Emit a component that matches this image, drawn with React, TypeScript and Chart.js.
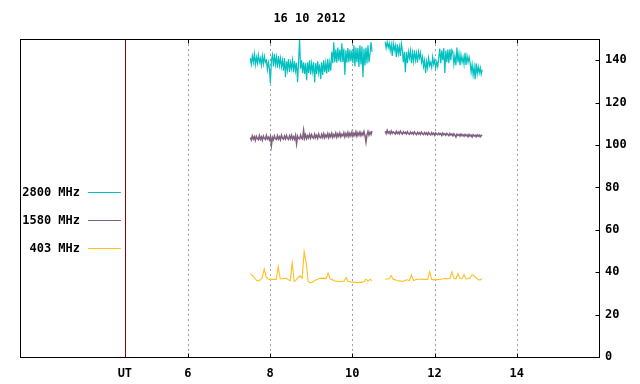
import React, { useEffect, useRef } from "react";
import { Chart, registerables } from "chart.js";

Chart.register(...registerables);

const TITLE = "16 10 2012";
const X_MIN = 1.92;
const X_MAX = 16;
const X_TICKS = [6, 8, 10, 12, 14];
const UT_HOUR = 4.47;
const UT_LABEL = "UT";
const Y_MIN = 0;
const Y_MAX = 150;
const Y_TICKS = [0, 20, 40, 60, 80, 100, 120, 140];

const SERIES_NAMES = ["2800 MHz", "1580 MHz", "403 MHz"];
const SERIES_COLORS = ["#00c0c0", "#806080", "#ffc020"];
const SERIES_WIDTHS = [1.2, 1.5, 1.1];

// observation segments (UT hours)
const SEG_A = [7.52, 10.48];
const SEG_B = [10.8, 13.16];

const F2800_A = [
  141, 138, 142, 139, 143, 137.8, 141.5, 138.5, 142.5, 139, 141, 137.6, 142, 138.2, 141.8, 139,
  140, 135.5, 139, 136,
  129, 140,
  142.5, 137, 143, 138, 141.5, 136.5, 142, 137.5, 141, 136.8,
  140, 135, 141, 132, 139.5, 135.5, 140.5, 134.5, 139, 136, 140, 134.3, 139.5, 135, 138.8, 129.6, 139,
  150,
  136, 140, 134, 139, 133.5, 138.6, 130.6, 139, 134, 140, 133.3, 138.5, 134.5, 139, 129.5, 138.6,
  133.5, 139.5, 134, 138, 131, 139, 133, 140, 134.3, 138.7, 133.8, 140.5, 134.5, 139, 135,
  144, 138.6, 148.5, 139, 145, 138.8, 146, 139.5,
  145, 139, 148, 139.2, 145.5, 133, 144.7, 138.8, 145.7, 139, 145, 139.5, 144.5,
  138.6, 147, 137, 146, 139, 145.7, 136.8, 147, 138, 146.5, 132, 145.5, 137.5, 146, 138.5, 147, 139,
  143, 148.5, 144,
];
const F2800_B = [
  148.7, 145.7, 148.5, 146,
  148, 144.5, 147.5, 142, 148, 144.7, 147, 141.5, 147.5, 143, 146.5, 142, 147.8,
  144.7, 139, 144, 134.3, 143.8, 138.6, 144,
  141, 144.5, 138.6, 143.5, 139.5, 144.7, 140, 143.3, 138.8, 144, 141, 143.5, 139,
  141.5, 137, 140, 134, 139.5, 136.3, 141, 137.5, 139, 136.5, 141.5, 138, 140, 136.3, 139.2, 137, 141,
  145.5, 138.6, 144.7, 140, 145.7, 134, 144.5, 139, 145, 138.6, 145.2, 140, 144.8,
  143.8, 138, 142, 137.6, 146, 139, 143, 137.6, 142.5, 139, 141.5, 138, 143.5, 137.8, 142, 139, 141.5,
  139, 134.3, 138, 133, 136.8, 131, 138.5, 133.5, 137, 134, 136.5, 133.3, 135.5,
];

const F1580_A = [
  103.5, 102.4, 104.3, 102.8, 103.9, 102.2, 104.1, 103.0, 102.5, 104.4, 102.7, 103.8, 102.3, 104.2, 103.1, 102.6, 104.5, 102.9, 103.7, 102.4,
  104.0, 99.8, 103.6, 102.5, 104.3, 103.0, 102.6, 104.4, 102.8, 103.9, 102.5, 104.6, 103.2, 102.7, 104.2, 102.9, 104.5, 103.1, 102.6, 104.3,
  103.0, 104.6, 102.8, 103.9, 102.7, 104.5, 100.6, 104.2, 103.1, 102.9, 104.7, 103.3, 102.8, 106.9, 103.2, 104.8, 103.0, 104.4, 103.4, 105.0,
  103.3, 104.9, 103.6, 103.1, 105.1, 103.5, 104.6, 103.2, 105.2, 103.7, 103.3, 105.0, 103.6, 105.3, 103.4, 104.7, 103.8, 105.4, 103.5, 105.1,
  103.9, 105.5, 103.6, 104.9, 104.0, 105.6, 103.7, 105.2, 104.1, 105.7, 103.9, 105.0, 104.3, 105.8, 103.8, 105.4, 104.2, 105.9, 104.0, 105.5,
  104.3, 106.0, 104.1, 105.6, 104.5, 106.2, 104.2, 105.8, 104.6, 106.1, 104.4, 105.7, 104.7, 106.3, 104.5, 101.4, 104.8, 106.4, 104.6, 106.0, 105.0, 106.6,
];
const F1580_B = [
  106.5, 105.4, 106.9, 105.6, 106.3, 105.3, 106.6, 105.5, 106.2, 105.8, 105.2, 106.4, 105.4, 106.1, 105.3, 106.5, 105.6, 105.1, 106.2, 105.5,
  106.0, 105.2, 106.3, 105.4, 105.0, 106.1, 105.3, 105.9, 105.1, 106.2, 105.4, 104.9, 106.0, 105.2, 105.8, 105.0, 106.1, 105.3, 104.9, 105.9,
  105.1, 105.7, 104.8, 105.9, 105.2, 104.7, 105.8, 105.0, 105.6, 104.6, 105.7, 105.1, 104.8, 105.6, 104.9, 105.4, 104.5, 105.6, 104.8, 105.3,
  104.6, 105.5, 104.9, 104.4, 105.4, 104.7, 105.2, 104.3, 105.3, 104.6, 103.8, 105.1, 104.5, 105.0, 104.2, 105.2, 104.4, 104.9, 104.1, 105.0,
  104.3, 104.8, 103.9, 105.0, 104.2, 104.7, 103.8, 104.9, 104.3, 104.6, 103.9, 104.8, 104.1, 104.7, 103.9, 104.6, 104.3,
];

const F403_A = [
  39.1, 38.6, 37.5, 36.3, 35.8, 36.4, 37.5, 41.5, 37.8, 36.8, 36.6, 36.6, 36.7, 36.6, 42.6, 36.9,
  36.9, 37, 37.1, 36.5, 35.9, 44.3, 35.6, 36.4, 37.5, 38.3, 37.2,
  49.7, 44.5, 35.8, 35, 35.3, 35.9, 36.4, 36.8, 37.1, 37.2, 37.1, 37.1, 39.7, 36.8, 36.5, 36, 35.8,
  35.6, 35.7, 35.6, 35.8, 37.4, 35.7, 35.5, 35.3, 35.4, 35.2, 35, 35.3, 35.2, 35.6, 36.7, 35.7, 36.6, 36.1,
];
const F403_B = [
  36.7, 36.8, 36.9, 38.4, 36.6, 36.4, 36.1, 35.9, 35.7, 35.8, 36.2, 36.4, 36, 38.7, 36.1, 36.4,
  36.6, 36.7, 36.8, 36.6, 36.7, 36.5, 40.2, 36.6, 36.4, 36.6, 36.5, 36.6, 36.8, 36.9, 37, 36.9,
  37, 40.2, 37.1, 36.9, 39.3, 37, 36.9, 38.8, 36.8, 36.9, 37.5, 38.8, 38.2, 37.3, 36.5, 36.4, 37.1,
];

const FONT = "'DejaVu Sans Mono', 'Liberation Mono', monospace";

function segmentPoints(seg: number[], values: number[]) {
  const n = values.length;
  return values.map((v, i) => ({ x: seg[0] + ((seg[1] - seg[0]) * i) / (n - 1), y: v }));
}

function seriesPoints(a: number[], b: number[]) {
  return [
    ...segmentPoints(SEG_A, a),
    { x: (SEG_A[1] + SEG_B[0]) / 2, y: null as any },
    ...segmentPoints(SEG_B, b),
  ];
}

const framePlugin = {
  id: "frame",
  beforeDatasetsDraw(chart: any) {
    const { ctx, chartArea: a, scales } = chart;
    const xs = scales.x;
    ctx.save();
    ctx.lineWidth = 1;
    ctx.strokeStyle = "#a0a0a0";
    ctx.setLineDash([2, 3]);
    X_TICKS.forEach((v) => {
      const px = Math.round(xs.getPixelForValue(v)) + 0.5;
      ctx.beginPath();
      ctx.moveTo(px, a.top);
      ctx.lineTo(px, a.bottom);
      ctx.stroke();
    });
    ctx.setLineDash([]);
    ctx.strokeStyle = "#8b0000";
    const ux = Math.round(xs.getPixelForValue(UT_HOUR)) + 0.5;
    ctx.beginPath();
    ctx.moveTo(ux, a.top);
    ctx.lineTo(ux, a.bottom);
    ctx.stroke();
    ctx.restore();
  },
  afterDatasetsDraw(chart: any) {
    const { ctx, chartArea: a, scales } = chart;
    const xs = scales.x;
    const ys = scales.y;
    ctx.save();
    ctx.lineWidth = 1;
    ctx.strokeStyle = "#000";
    const L = Math.round(a.left) + 0.5;
    const R = Math.round(a.right) + 0.5;
    const T = Math.round(a.top) + 0.5;
    const B = Math.round(a.bottom) + 0.5;
    ctx.strokeRect(L, T, R - L, B - T);
    ctx.beginPath();
    X_TICKS.forEach((v) => {
      const px = Math.round(xs.getPixelForValue(v)) + 0.5;
      ctx.moveTo(px, B);
      ctx.lineTo(px, B - 4);
      ctx.moveTo(px, T);
      ctx.lineTo(px, T + 4);
    });
    Y_TICKS.forEach((v) => {
      const py = Math.round(ys.getPixelForValue(v)) + 0.5;
      ctx.moveTo(R, py);
      ctx.lineTo(R - 4, py);
    });
    ctx.stroke();
    ctx.restore();
  },
  afterDraw(chart: any) {
    const { ctx, chartArea: a, scales } = chart;
    const ux = scales.x.getPixelForValue(UT_HOUR);
    ctx.save();
    ctx.font = "bold 12px " + FONT;
    ctx.textBaseline = "middle";
    ctx.fillStyle = "#000";
    // title centred over the plot area
    ctx.textAlign = "center";
    ctx.fillText(TITLE, (a.left + a.right) / 2, 19);
    // key
    ctx.textAlign = "right";
    SERIES_NAMES.forEach((name, i) => {
      const y = Math.round(a.top + 153 + i * 28) + 0.5;
      ctx.fillText(name, a.left + 60, y);
      ctx.strokeStyle = SERIES_COLORS[i];
      ctx.lineWidth = 1;
      ctx.beginPath();
      ctx.moveTo(a.left + 68, y);
      ctx.lineTo(ux - 4, y);
      ctx.stroke();
    });
    ctx.restore();
  },
};

export default function App() {
  const ref = useRef<HTMLCanvasElement | null>(null);
  useEffect(() => {
    document.body.style.margin = "0";
    const canvas = ref.current!;
    const datasets = [
      seriesPoints(F2800_A, F2800_B),
      seriesPoints(F1580_A, F1580_B),
      seriesPoints(F403_A, F403_B),
    ].map((data, i) => ({
      label: SERIES_NAMES[i],
      data,
      borderColor: SERIES_COLORS[i],
      backgroundColor: SERIES_COLORS[i],
      borderWidth: SERIES_WIDTHS[i],
      pointRadius: 0,
      fill: false,
      tension: 0,
      spanGaps: false,
    }));
    const chart = new Chart(canvas, {
      type: "line",
      data: { datasets },
      plugins: [framePlugin],
      options: {
        animation: false,
        responsive: false,
        maintainAspectRatio: false,
        parsing: false as any,
        layout: { padding: { left: 20, top: 39, right: 0, bottom: 0 } },
        plugins: {
          legend: { display: false },
          tooltip: { enabled: false },
          title: { display: false },
        },
        scales: {
          x: {
            type: "linear",
            min: X_MIN,
            max: X_MAX,
            grid: { display: false, drawTicks: false, tickLength: 0 },
            border: { display: false },
            afterBuildTicks: (s: any) => {
              s.ticks = [UT_HOUR, ...X_TICKS].map((v) => ({ value: v }));
            },
            afterFit: (s: any) => {
              s.height = 27;
            },
            ticks: {
              autoSkip: false,
              maxRotation: 0,
              color: "#000",
              padding: 10,
              font: { family: FONT, size: 12, weight: "bold" },
              callback: (v: any) => (v === UT_HOUR ? UT_LABEL : String(v)),
            },
          },
          y: {
            type: "linear",
            position: "right",
            min: Y_MIN,
            max: Y_MAX,
            grid: { display: false, drawTicks: false, tickLength: 0 },
            border: { display: false },
            afterBuildTicks: (s: any) => {
              s.ticks = Y_TICKS.map((v) => ({ value: v }));
            },
            afterFit: (s: any) => {
              s.width = 41;
            },
            ticks: {
              color: "#000",
              padding: 6,
              font: { family: FONT, size: 12, weight: "bold" },
            },
          },
        },
      },
    });
    return () => chart.destroy();
  }, []);
  return (
    <div style={{ width: 640, height: 384 }}>
      <canvas ref={ref} width={640} height={384} style={{ display: "block" }} />
    </div>
  );
}
